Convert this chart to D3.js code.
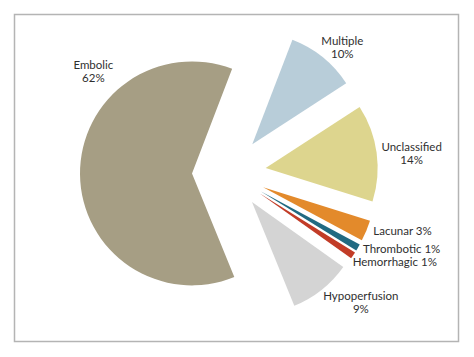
<!DOCTYPE html>
<html>
<head>
<meta charset="utf-8">
<script src="https://cdn.jsdelivr.net/npm/d3@7"></script>
<style>
  html, body { margin: 0; padding: 0; background: #fff; }
  svg { display: block; }
  text { font-family: Lato, "Open Sans", sans-serif; fill: #2f2f2f; }
</style>
</head>
<body>
<svg id="chart" width="474" height="357"></svg>
<script>
// ---- data ----
const categories = ["Multiple", "Unclassified", "Lacunar", "Thrombotic", "Hemorrhagic", "Hypoperfusion", "Embolic"];
const percents   = [10, 14, 3, 1, 1, 9, 62];
const labelText  = ["Multiple\n10%", "Unclassified\n14%", "Lacunar 3%", "Thrombotic 1%", "Hemorrhagic 1%", "Hypoperfusion\n9%", "Embolic\n62%"];
const colors     = ["#b8cdd9", "#ddd58e", "#e38a2b", "#216a82", "#c23c27", "#d4d4d4", "#a69e84"];

// ---- layout ----
const W = 474, H = 357;
const cx = 229, cy = 173;
const radius = 112;
const explode = 37;
const deg = Math.PI / 180;

// label placement: polar position from pie centre (angle deg clockwise from north, radius), anchor
const labelLayout = {
  "Multiple":      { a: 41.5,  r: 171, anchor: "middle" },
  "Unclassified":  { a: 83.0,  r: 184, anchor: "middle" },
  "Lacunar":       { a: 113.2, r: 157, anchor: "start" },
  "Thrombotic":    { a: 120.8, r: 156, anchor: "start" },
  "Hemorrhagic":   { a: 127.1, r: 155, anchor: "start" },
  "Hypoperfusion": { a: 133.9, r: 183, anchor: "middle" },
  "Embolic":       { a: 307.5, r: 171, anchor: "middle" }
};

const svg = d3.select("#chart");

// frame
svg.append("rect")
  .attr("x", 14.5).attr("y", 14.5)
  .attr("width", 444).attr("height", 327)
  .attr("fill", "none")
  .attr("stroke", "#b4b4b4")
  .attr("stroke-width", 1.5);

const data = categories.map((c, i) => ({ name: c, value: percents[i], color: colors[i], label: labelText[i] }));

const pie = d3.pie()
  .value(d => d.value)
  .sort(null)
  .startAngle(21 * deg)
  .endAngle(21 * deg + 2 * Math.PI);

const arc = d3.arc().innerRadius(0).outerRadius(radius);

const g = svg.append("g").attr("transform", `translate(${cx},${cy})`);

const arcs = pie(data);

g.selectAll("path.slice")
  .data(arcs)
  .join("path")
  .attr("class", "slice")
  .attr("d", arc)
  .attr("fill", d => d.data.color)
  .attr("transform", d => {
    const mid = (d.startAngle + d.endAngle) / 2;
    const [ox, oy] = d3.pointRadial(mid, explode);
    return `translate(${ox},${oy})`;
  });

// labels
const labels = g.selectAll("text.lbl")
  .data(arcs)
  .join("text")
  .attr("class", "lbl")
  .attr("font-size", 11.5)
  .attr("text-anchor", d => labelLayout[d.data.name].anchor)
  .attr("transform", d => {
    const L = labelLayout[d.data.name];
    const [x, y] = d3.pointRadial(L.a * deg, L.r);
    return `translate(${x},${y})`;
  });

labels.each(function(d) {
  const lines = d.data.label.split("\n");
  d3.select(this).selectAll("tspan")
    .data(lines)
    .join("tspan")
    .attr("x", 0)
    .attr("dy", (l, i) => i === 0 ? 0 : 13)
    .text(l => l);
});
</script>
</body>
</html>
